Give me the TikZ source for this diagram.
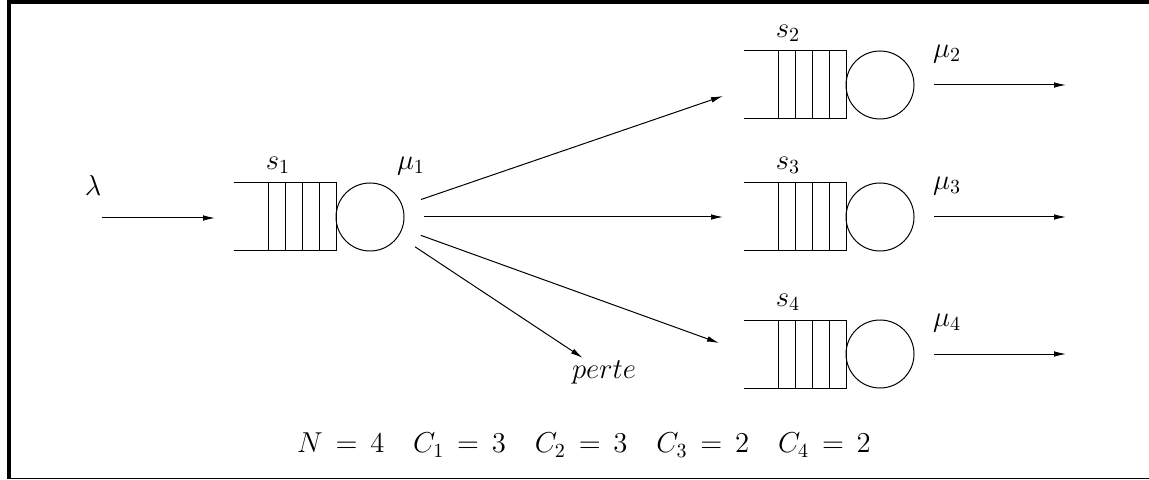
\documentclass[tikz,border=0pt]{standalone}
\usepackage{amsmath}
\usetikzlibrary{arrows.meta}

\begin{document}
\begin{tikzpicture}[
  x=0.5pt, y=-0.5pt,
  font=\Large,
  >={Latex[length=6pt,width=2.8pt]},
  line width=0.5pt,
  server/.style={circle, draw, minimum size=34pt, inner sep=0pt, outer sep=10pt},
  flow/.style={->, line width=0.5pt},
  lbl/.style={inner sep=1pt},
]
% ---- frame ----
\useasboundingbox (0,0) rectangle (1149,480);
\draw[line width=2pt] (1149,2) -- (9,2) -- (9,478.5);
\draw[line width=0.7pt] (9,478.5) -- (1149,478.5);

% ---- queues and servers ----
\foreach \n/\xx/\yy in {1/370/217, 2/880/85, 3/880/217, 4/880/354} {
  \node[server] (srv\n) at (\xx,\yy) {};
  \draw (\xx-136,\yy-34) -- (\xx-34,\yy-34) -- (\xx-34,\yy+34) -- (\xx-136,\yy+34);
  \foreach \k in {1,2,3,4}
    \draw (\xx-34-17*\k,\yy-34) -- ++(0,68);
  \node[lbl] (s\n) at (\xx-92,\yy-52) {$s_\n$};
}

% ---- input ----
\node[lbl] (lambda) at (93,186) {$\lambda$};
\coordinate (src) at (102,218);
\coordinate (in1) at (215,218);
\draw[flow] (src) -- (in1);
\node[lbl] (mu1) at (411,166) {$\mu_1$};

% ---- routing ----
\coordinate (in2) at (723,96);
\coordinate (in3) at (723,217);
\coordinate (in4) at (719,343);
\node[lbl] (perte) at (604,372) {$perte$};
\draw[flow] (srv1) -- (in2);
\draw[flow] (srv1) -- (in3);
\draw[flow] (srv1) -- (in4);
\draw[flow] (srv1) -- (perte);

% ---- outputs ----
\foreach \n/\yy in {2/85, 3/217, 4/354} {
  \node[lbl] (mu\n) at (947,\yy-31) {$\mu_\n$};
  \coordinate (out\n) at (1066,\yy);
  \draw[flow] (srv\n) -- (out\n);
}

\node (param) at (584,445) {$N \,=\, 4 \quad C_1 \,=\, 3 \quad C_2 \,=\, 3 \quad C_3 \,=\, 2 \quad C_4 \,=\, 2$};
\end{tikzpicture}
\end{document}
